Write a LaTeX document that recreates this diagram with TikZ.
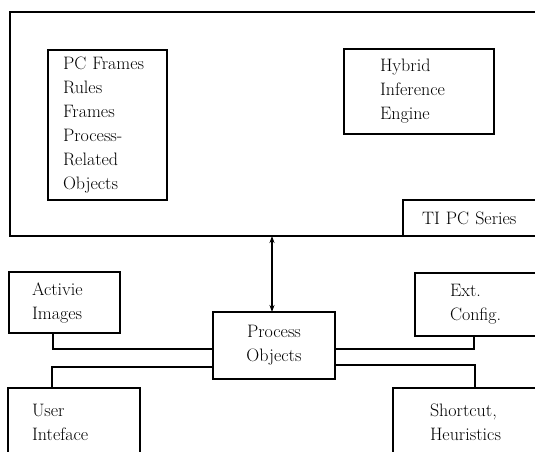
\documentclass[tikz,border=0pt]{standalone}
\usetikzlibrary{arrows.meta}
\begin{document}
\begin{tikzpicture}[x=1pt,y=-1pt,
  lw/.style={line width=1.1pt},
  box/.style={draw, lw, rectangle, anchor=north west, outer sep=0pt, inner ysep=0pt,
    align=left, font=\fontsize{18}{24}\selectfont},
  conn/.style={lw},
  dbl/.style={lw, {Stealth[length=7pt,width=5pt]}-{Stealth[length=7pt,width=5pt]}}]
\useasboundingbox (0,0) rectangle (535,452);
\clip (0,0) rectangle (535,452);
% main computer box
\node[box, minimum width=535pt, minimum height=224pt, inner xsep=0pt] (main) at (10,12) {};
\node[box, minimum width=142pt, minimum height=36pt, inner xsep=19pt, text width=112pt] (tipc) at (403,200) {TI PC Series};
\node[box, minimum width=119pt, minimum height=150pt, inner xsep=15pt, text width=89pt] (kb) at (48,50) {PC Frames\\Rules\\Frames\\Process-\\Related\\Objects};
\node[box, minimum width=150pt, minimum height=85pt, inner xsep=36pt, text width=78pt] (hie) at (344,49) {Hybrid\\Inference\\Engine};
% lower boxes
\node[box, minimum width=122pt, minimum height=67pt, inner xsep=4pt, text width=114pt, align=center] (po) at (213,312) {Process\\Objects};
\node[box, minimum width=111pt, minimum height=61pt, inner xsep=23pt, text width=65pt] (ai) at (9,272) {Activie\\Images};
\node[box, minimum width=130pt, minimum height=63pt, inner xsep=35pt, text width=60pt] (ec) at (415,273) {Ext.\\Config.};
\node[box, minimum width=132pt, minimum height=68pt, inner xsep=24pt, text width=84pt] (ui) at (8,388) {User\\Inteface};
\node[box, minimum width=152pt, minimum height=68pt, inner xsep=37pt, text width=78pt] (sh) at (393,388) {Shortcut,\\Heuristics};
% connectors
\draw[dbl] ([xshift=-2pt]po.north |- main.south) -- ([xshift=-2pt]po.north);
\draw[conn] ([xshift=44pt]ai.south west) |- ([yshift=-3.5pt]po.west);
\draw[conn] ([yshift=-21.5pt]po.west) -| ([xshift=44pt]ui.north west);
\draw[conn] ([yshift=-3.5pt]po.east) -| ([xshift=59pt]ec.south west);
\draw[conn] ([yshift=-19.5pt]po.east) -| ([xshift=82pt]sh.north west);
\end{tikzpicture}
\end{document}
